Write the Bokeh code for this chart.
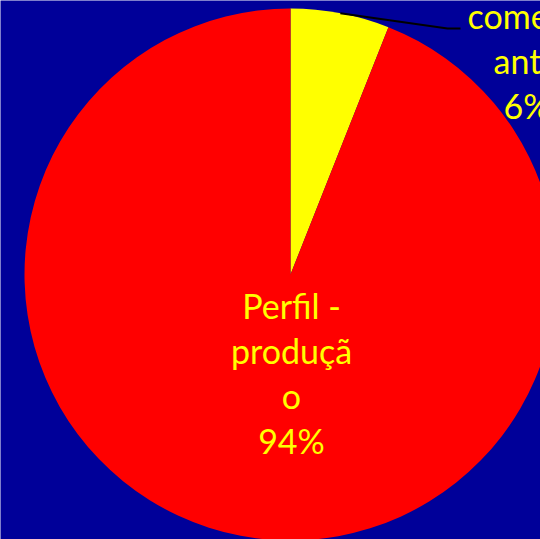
import math
from bokeh.plotting import figure
from bokeh.models import Range1d
from bokeh.core.properties import value
from bokeh.embed import file_html
from bokeh.resources import INLINE

# Data
categories = ["comercial", "Perfil - produção"]
shares = [6, 94]
colors = ["#FFFF00", "#FF0000"]
big_label_lines = ["Perfil -", "produçã", "o", "94%"]
small_label_lines = ["come", "ant", "6%"]

BG = "#000099"
FONT = "Lato"

# Layout (reference pixel space, y up)
W, H = 540, 539
cx, cy, R = 290, 265, 266

p = figure(width=W, height=H, output_backend="svg", toolbar_location=None,
           x_range=Range1d(0, W), y_range=Range1d(0, H),
           min_border=0, background_fill_color=BG, border_fill_color=BG)
p.axis.visible = False
p.grid.visible = False
p.outline_line_color = None

# Wedges: start at 12 o'clock, clockwise
total = sum(shares)
start = math.pi / 2
starts, ends, mids = [], [], []
for s in shares:
    sweep = 2 * math.pi * s / total
    starts.append(start)
    ends.append(start - sweep)
    mids.append(start - sweep / 2)
    start -= sweep

p.wedge(x=[cx] * len(shares), y=[cy] * len(shares), radius=R,
        start_angle=starts, end_angle=ends, direction="clock",
        fill_color=colors, line_color=None)

# Leader line for the small slice
mx = cx + R * math.cos(mids[0])
my = cy + R * math.sin(mids[0])
p.line(x=[mx, 447, 460], y=[my, 511, 511], line_color="black", line_width=2)

# Labels
fs = "34px"
big_y = [234, 189, 144, 99]
p.text(x=[291] * len(big_label_lines), y=big_y, text=big_label_lines,
       text_align="center", text_baseline="alphabetic",
       text_color="#FFFF00", text_font=value(FONT), text_font_size=fs)

small_x = [467, 493, 503]
small_y = [524, 479, 434]
p.text(x=small_x, y=small_y, text=small_label_lines,
       text_align="left", text_baseline="alphabetic",
       text_color="#FFFF00", text_font=value(FONT), text_font_size=fs)

open("out.html", "w").write(file_html(p, INLINE))
